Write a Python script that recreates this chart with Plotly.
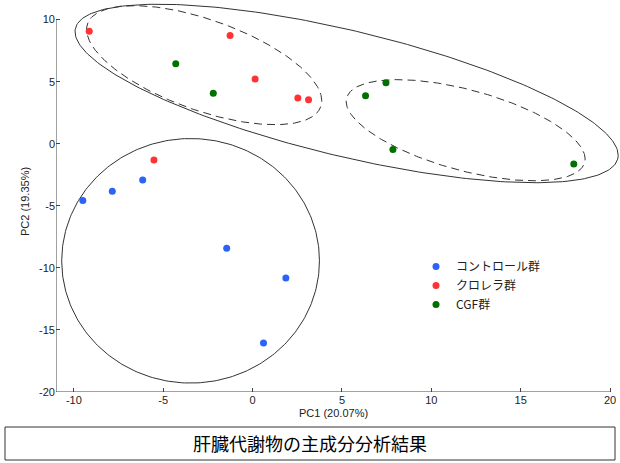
import numpy as np
import plotly.graph_objects as go

# ---- data ----
groups = ["コントロール群", "クロレラ群", "CGF群"]
colors = ["#2B63F6", "#FF3333", "#007000"]

control_x = [-9.5, -7.85, -6.15, -1.45, 1.86, 0.61]
control_y = [-4.57, -3.82, -2.93, -8.41, -10.81, -16.05]

chlorella_x = [-9.14, -1.26, 0.14, 2.53, 3.13, -5.52]
chlorella_y = [9.06, 8.73, 5.22, 3.69, 3.55, -1.31]

cgf_x = [-4.3, -2.2, 7.46, 6.32, 7.85, 17.97]
cgf_y = [6.45, 4.06, 4.92, 3.87, -0.46, -1.64]

# ellipses: centre x, centre y, var x, var y, cov xy
ellipse_solid_big = (5.26, 4.05, 230.9, 51.7, -75.6)
ellipse_solid_circle = (-3.47, -9.43, 7.21 ** 2, 9.85 ** 2, 0.0)
ellipse_dash_left = (-2.71, 6.33, 43.3, 23.0, -18.9)
ellipse_dash_right = (11.92, 1.09, 44.7, 16.6, -15.5)

x_ticks = [-10, -5, 0, 5, 10, 15, 20]
x_tick_text = ["-10", "-5", "0", "5", "10", "15", "20"]
y_ticks = [-20, -15, -10, -5, 0, 5, 10]
y_tick_text = ["-20", "-15", "-10", "-5", "0", "5", "10"]


def ellipse_xy(p, n=300):
    cx, cy, sxx, syy, sxy = p
    L = np.linalg.cholesky(np.array([[sxx, sxy], [sxy, syy]]))
    t = np.linspace(0, 2 * np.pi, n)
    pts = L @ np.vstack([np.cos(t), np.sin(t)])
    return cx + pts[0], cy + pts[1]


fig = go.Figure()

for p, dash in [(ellipse_solid_big, "solid"), (ellipse_solid_circle, "solid"),
                (ellipse_dash_left, "8px,5px"), (ellipse_dash_right, "8px,5px")]:
    ex, ey = ellipse_xy(p)
    fig.add_trace(go.Scatter(x=ex, y=ey, mode="lines", showlegend=False,
                             hoverinfo="skip",
                             line=dict(color="#333333", width=1, dash=dash)))

for name, xs, ys, c in zip(groups, [control_x, chlorella_x, cgf_x],
                           [control_y, chlorella_y, cgf_y], colors):
    fig.add_trace(go.Scatter(x=xs, y=ys, mode="markers", name=name,
                             marker=dict(color=c, size=7)))

axis_font = dict(family="Liberation Sans, Arial", size=11, color="#222222")

fig.update_xaxes(range=[-11, 20.5], tickvals=x_ticks, ticktext=x_tick_text,
                 ticks="inside", ticklen=4,
                 tickcolor="#444", showline=False, showgrid=False, zeroline=False,
                 tickfont=axis_font)
fig.update_yaxes(range=[-20, 11.5], tickvals=y_ticks, ticktext=y_tick_text,
                 ticks="inside", ticklen=4,
                 tickcolor="#444", showline=False, showgrid=False, zeroline=False,
                 tickfont=axis_font)

# plot area: px x 56..619, px y 1..392
def px_x(p):
    return (p - 56) / 563.0


def px_y(p):
    return (392 - p) / 391.0


shapes = [
    dict(type="line", xref="x", yref="y", x0=-11, x1=-11, y0=-20, y1=10,
         line=dict(color="#444", width=1)),
    dict(type="line", xref="x", yref="y", x0=-11, x1=20, y0=-20, y1=-20,
         line=dict(color="#444", width=1)),
    dict(type="rect", xref="paper", yref="paper", x0=px_x(5), x1=px_x(615),
         y0=px_y(460), y1=px_y(427), line=dict(color="#333", width=1)),
]

annotations = [
    dict(text="PC1 (20.07%)", xref="paper", yref="paper", x=px_x(333), y=px_y(413),
         xanchor="center", yanchor="middle", showarrow=False, font=axis_font),
    dict(text="PC2 (19.35%)", xref="paper", yref="paper", x=px_x(25), y=px_y(202),
         xanchor="center", yanchor="middle",
         textangle=-90, showarrow=False, font=axis_font),
    dict(text="肝臓代謝物の主成分分析結果", xref="paper", yref="paper",
         x=px_x(310), y=px_y(443), xanchor="center", yanchor="middle",
         showarrow=False,
         font=dict(family="Noto Sans CJK JP", size=18, color="#000")),
]

fig.update_layout(
    width=620, height=463,
    margin=dict(l=56, r=1, t=1, b=71),
    plot_bgcolor="white", paper_bgcolor="white",
    shapes=shapes, annotations=annotations,
    legend=dict(x=px_x(416), y=px_y(252), xanchor="left", yanchor="top",
                font=dict(family="Noto Sans CJK JP", size=12, color="#222"),
                bgcolor="rgba(0,0,0,0)"),
)

fig.write_html("out.html")
